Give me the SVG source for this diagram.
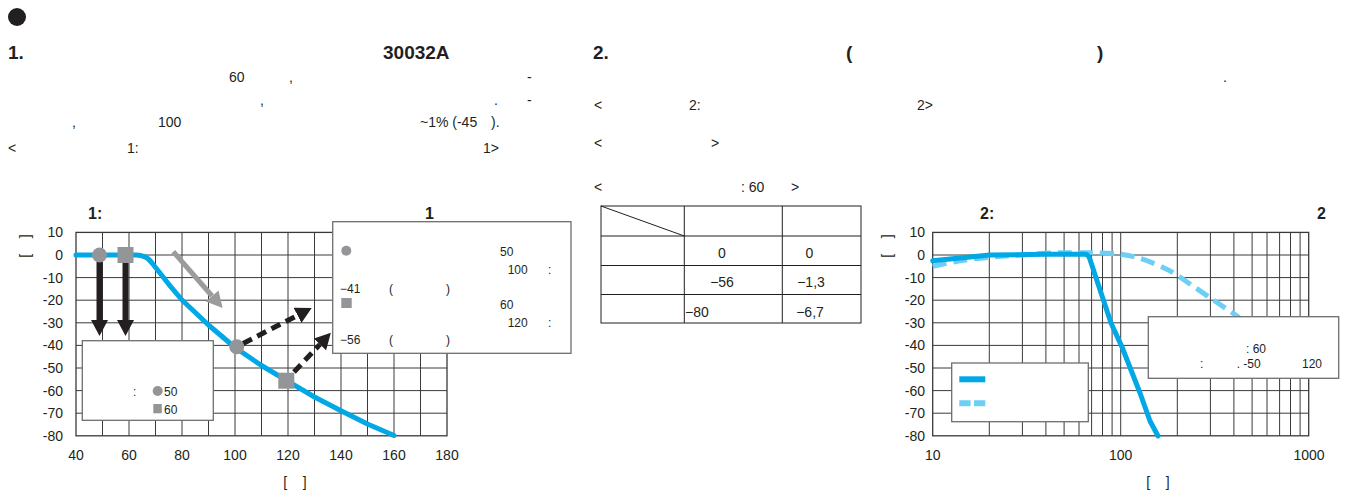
<svg xmlns="http://www.w3.org/2000/svg" width="1348" height="494" viewBox="0 0 1348 494">
<style>
text{font-family:"Liberation Sans",Arial,sans-serif;fill:#231f20;font-size:14px}
.h{font-size:15px}
.hb{font-weight:bold;font-size:19px}
.b{font-weight:bold;font-size:16px}
.t{font-size:14px}
.s{font-size:12px}
.m{text-anchor:middle}
.e{text-anchor:end}
.grid{stroke:#3a3a3a;stroke-width:1;fill:none}
.frame{stroke:#3a3a3a;stroke-width:1.3;fill:none}
.box{fill:#fff;stroke:#6d6e71;stroke-width:1.3}
.curve{fill:none;stroke:#00a9e6;stroke-width:5;stroke-linejoin:round;stroke-linecap:round}
.curve2{fill:none;stroke:#6dcff6;stroke-width:5;stroke-dasharray:14 7}
.mk{fill:#939598}
.tbl{stroke:#231f20;stroke-width:1;fill:none}
</style>
<defs>
<marker id="ahk" markerUnits="userSpaceOnUse" markerWidth="18" markerHeight="18" refX="0" refY="8.5" orient="auto"><path d="M0,0 L16,8.5 L0,17 z" fill="#231f20"/></marker>
<marker id="ahg" markerUnits="userSpaceOnUse" markerWidth="18" markerHeight="18" refX="0" refY="8.5" orient="auto"><path d="M0,0 L16,8.5 L0,17 z" fill="#9b9b9b"/></marker>
</defs>

<g id="header">
<circle cx="17" cy="17" r="9" fill="#231f20"/>
<text class="hb" x="8" y="59">1.</text>
<text class="hb" x="383" y="59">30032A</text>
<g class="h">
<text x="229" y="82">60</text>
<text x="289" y="82">,</text>
<text x="527" y="82">-</text>
<text x="260" y="105">,</text>
<text x="494" y="105">.</text>
<text x="527" y="105">-</text>
<text x="72" y="127">,</text>
<text x="158" y="127">100</text>
<text x="420" y="127">~1% (-45</text>
<text x="491" y="127">).</text>
<text x="8" y="153">&lt;</text>
<text x="127" y="153">1:</text>
<text x="483" y="153">1&gt;</text>
<text x="1223" y="82">.</text>
<text x="594" y="110">&lt;</text>
<text x="689" y="110">2:</text>
<text x="917" y="110">2&gt;</text>
<text x="594" y="148">&lt;</text>
<text x="711" y="148">&gt;</text>
<text x="594" y="192">&lt;</text>
<text x="741" y="192">: 60</text>
<text x="791" y="192">&gt;</text>
</g>
<text class="hb" x="593" y="59">2.</text>
<text class="hb" x="846" y="59">(</text>
<text class="hb" x="1097" y="59">)</text>
</g>

<g id="chart1">
<text class="b" x="88" y="219">1:</text>
<text class="b" x="425" y="219">1</text>
<g class="grid">
<path d="M102.5,232.4V435.8M129,232.4V435.8M155.5,232.4V435.8M182,232.4V435.8M208.5,232.4V435.8M235,232.4V435.8M261.5,232.4V435.8M288,232.4V435.8M314.5,232.4V435.8M341,232.4V435.8M367.5,232.4V435.8M394,232.4V435.8M420.5,232.4V435.8"/>
<path d="M76,255H447M76,277.6H447M76,300.2H447M76,322.8H447M76,345.4H447M76,368H447M76,390.6H447M76,413.2H447"/>
</g>
<rect class="frame" x="76" y="232.4" width="371" height="203.4"/>
<g class="t e">
<text x="63" y="237">10</text>
<text x="63" y="260">0</text>
<text x="63" y="282.5">-10</text>
<text x="63" y="305">-20</text>
<text x="63" y="327.5">-30</text>
<text x="63" y="350">-40</text>
<text x="63" y="373">-50</text>
<text x="63" y="395.5">-60</text>
<text x="63" y="418">-70</text>
<text x="63" y="441">-80</text>
</g>
<g class="t m">
<text x="76" y="460">40</text>
<text x="129" y="460">60</text>
<text x="182" y="460">80</text>
<text x="235" y="460">100</text>
<text x="288" y="460">120</text>
<text x="341" y="460">140</text>
<text x="394" y="460">160</text>
<text x="447" y="460">180</text>
</g>
<text class="t m" x="295" y="487" xml:space="preserve">[    ]</text>
<text class="t m" x="0" y="0" transform="translate(30,246) rotate(-90)" xml:space="preserve">[    ]</text>
<path class="curve" d="M76,255 L136,255 C143,255 148,257 152,263 L168.8,284.3 L182,300 L208.5,325 L235,347.5 L261.5,365.5 L288,381.3 L314.5,397 L341,410.7 L367.5,424 L394,435.5"/>
</g>

<g id="connectors">
<path d="M99.5,262 V320" stroke="#231f20" stroke-width="6" marker-end="url(#ahk)"/>
<path d="M125.5,262 V320" stroke="#231f20" stroke-width="6" marker-end="url(#ahk)"/>
<path d="M173.3,251.7 L212.1,296" stroke="#9b9b9b" stroke-width="5" marker-end="url(#ahg)"/>
<path d="M243,343.5 L297.5,315.4" stroke="#231f20" stroke-width="5" stroke-dasharray="10 6" marker-end="url(#ahk)"/>
<path d="M294,372 L319.9,344.4" stroke="#231f20" stroke-width="5" stroke-dasharray="10 6" marker-end="url(#ahk)"/>
</g>

<g id="markers1">
<circle class="mk" cx="99.5" cy="255" r="7.5"/>
<rect class="mk" x="117.5" y="247" width="16" height="16"/>
<circle class="mk" cx="236.7" cy="346.7" r="7.5"/>
<rect class="mk" x="278.3" y="372.7" width="16" height="16"/>
</g>

<g id="legend1">
<rect class="box" x="82.3" y="340.7" width="131" height="79.6"/>
<text class="s" x="133" y="396">:</text>
<circle class="mk" cx="157.7" cy="391" r="5"/>
<text class="s" x="164" y="396">50</text>
<rect class="mk" x="153.3" y="404" width="8.5" height="9.3"/>
<text class="s" x="164" y="413.5">60</text>
</g>

<g id="note1">
<rect class="box" x="332.7" y="221.7" width="238.3" height="131.6"/>
<circle class="mk" cx="346.3" cy="250.7" r="5"/>
<text class="s" x="500" y="256">50</text>
<text class="s" x="507.7" y="274">100</text>
<text class="s" x="548" y="274">:</text>
<text class="s" x="340" y="292.5">−41</text>
<text class="s" x="389" y="292.5">(</text>
<text class="s" x="446" y="292.5">)</text>
<rect class="mk" x="341.3" y="298" width="10.4" height="10"/>
<text class="s" x="500" y="308.7">60</text>
<text class="s" x="507.7" y="326.7">120</text>
<text class="s" x="548" y="326.7">:</text>
<text class="s" x="340" y="344">−56</text>
<text class="s" x="389" y="344">(</text>
<text class="s" x="446" y="344">)</text>
</g>

<g id="table">
<rect class="tbl" x="601" y="206" width="260" height="117"/>
<path class="tbl" d="M684.3,206V323M782.3,206V323M601,236H861M601,265.5H861M601,294.5H861M601,206L684.3,236"/>
<text class="t m" x="722" y="258">0</text>
<text class="t m" x="809.5" y="258">0</text>
<text class="t m" x="722" y="287">−56</text>
<text class="t m" x="811" y="287">−1,3</text>
<text class="t" x="685" y="316.5">−80</text>
<text class="t m" x="810" y="316.5">−6,7</text>
</g>

<g id="chart2">
<text class="b" x="980" y="219">2:</text>
<text class="b" x="1317" y="219">2</text>
<g class="grid">
<path d="M989.3,232.4V435.8M1022.4,232.4V435.8M1045.9,232.4V435.8M1064.1,232.4V435.8M1079,232.4V435.8M1091.6,232.4V435.8M1102.5,232.4V435.8M1112.1,232.4V435.8M1120.7,232.4V435.8M1177.3,232.4V435.8M1210.4,232.4V435.8M1233.9,232.4V435.8M1252.1,232.4V435.8M1267,232.4V435.8M1279.6,232.4V435.8M1290.5,232.4V435.8M1300.1,232.4V435.8"/>
<path d="M932.7,255H1308.7M932.7,277.6H1308.7M932.7,300.2H1308.7M932.7,322.8H1308.7M932.7,345.4H1308.7M932.7,368H1308.7M932.7,390.6H1308.7M932.7,413.2H1308.7"/>
</g>
<rect class="frame" x="932.7" y="232.4" width="376" height="203.4"/>
<g class="t e">
<text x="925" y="237">10</text>
<text x="925" y="260">0</text>
<text x="925" y="282.5">-10</text>
<text x="925" y="305">-20</text>
<text x="925" y="327.5">-30</text>
<text x="925" y="350">-40</text>
<text x="925" y="373">-50</text>
<text x="925" y="395.5">-60</text>
<text x="925" y="418">-70</text>
<text x="925" y="441">-80</text>
</g>
<g class="t m">
<text x="932.7" y="460">10</text>
<text x="1120.7" y="460">100</text>
<text x="1309" y="460">1000</text>
</g>
<text class="t m" x="1158" y="487" xml:space="preserve">[    ]</text>
<text class="t m" x="0" y="0" transform="translate(892,246) rotate(-90)" xml:space="preserve">[    ]</text>
<path class="curve2" d="M932.7,266.3 C955,261 970,259 989.3,257.3 C1000,256 1010,255.5 1022.4,255 C1040,253.5 1052,252.7 1064.1,252.7 L1091.6,252.7 C1105,253 1113,253.5 1120.7,254.3 C1132,256 1140,257.5 1153.8,263.4 C1163,267 1170,270.5 1177.3,275.3 L1210.4,298 L1237,316 L1255,331"/>
<path class="curve" d="M932.7,260.7 C950,259 970,257 989.3,255 L1046,254.3 L1085,254.3 Q1088,254.5 1089.5,258 L1111,323 L1122,347 L1140,393 L1150,421 L1158,436"/>
</g>

<g id="legend2">
<rect class="box" x="951.7" y="363" width="136.6" height="58.7"/>
<path d="M959.3,379.3H985.3" stroke="#00a9e6" stroke-width="6"/>
<path d="M959.3,403.3H985.3" stroke="#6dcff6" stroke-width="6" stroke-dasharray="11.3 3.4"/>
</g>

<g id="note2">
<rect class="box" x="1148.3" y="316.7" width="190.4" height="61.6"/>
<text class="s" x="1246" y="352.7">: 60</text>
<text class="s" x="1200" y="368.3">:</text>
<text class="s" x="1236.7" y="368.3">. -50</text>
<text class="s" x="1302" y="368.3">120</text>
</g>
</svg>
